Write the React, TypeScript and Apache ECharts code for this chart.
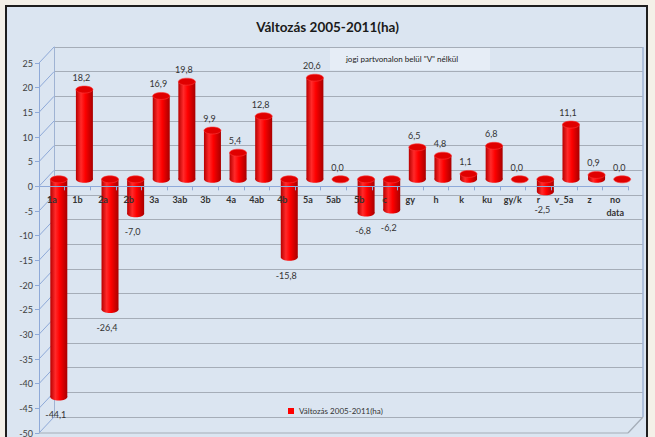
import React, { useEffect, useRef } from "react";
import * as echarts from "echarts";

const categories = ["1a","1b","2a","2b","3a","3ab","3b","4a","4ab","4b","5a","5ab","5b","c","gy","h","k","ku","gy/k","r","v_5a","z","no\ndata"];
const values = [-44.1,18.2,-26.4,-7.0,16.9,19.8,9.9,5.4,12.8,-15.8,20.6,0.0,-6.8,-6.2,6.5,4.8,1.1,6.8,0.0,-2.5,11.1,0.9,0.0];
const yTicks = [-50,-45,-40,-35,-30,-25,-20,-15,-10,-5,0,5,10,15,20,25];
const seriesName = "Változás 2005-2011(ha)";
const titleText = "Változás 2005-2011(ha)";
const noteText = "jogi partvonalon belül \"V\" nélkül";

const FONT = "Lato, 'Open Sans', sans-serif";

export default function App() {
  const ref = useRef<HTMLDivElement>(null);
  useEffect(() => {
    if (!ref.current) return;
    const chart = echarts.init(ref.current, undefined, { renderer: "svg" });
    const BDX = 15, BDY = -16; // back wall depth offset
    const PDX = 7, PDY = -7;   // bar plane offset
    const barW = 17, ry = 3.5;
    const yMin = yTicks[0], yMax = yTicks[yTicks.length - 1];
    const gridH = 370;
    const zeroOffset = -gridH * (0 - yMin) / (yMax - yMin);

    const option: any = {
      animation: false,
      backgroundColor: "transparent",
      textStyle: { fontFamily: FONT },
      title: {
        text: titleText, left: "center", top: 15,
        textStyle: { fontSize: 13.5, fontWeight: "bold", color: "#1a1a1a", fontFamily: FONT },
      },
      legend: {
        data: [{ name: seriesName, icon: "rect" }],
        left: 283, top: 402, itemWidth: 6, itemHeight: 6, itemGap: 2,
        textStyle: { fontSize: 8, color: "#333", fontFamily: FONT },
      },
      graphic: [
        {
          type: "group", left: 330, top: 47,
          children: [
            { type: "rect", shape: { x: 0, y: 0, width: 160, height: 23 }, style: { fill: "#e6edf6" } },
            { type: "text", x: 72, y: 11.5, style: { text: noteText, fontSize: 8, fill: "#222", align: "center", verticalAlign: "middle", fontFamily: FONT } },
          ],
        },
      ],
      grid: [
        { left: 39, top: 63, width: 589, height: gridH, containLabel: false, outerBoundsMode: "none" },
        { left: 39 + BDX, top: 63 + BDY, width: 589, height: gridH, containLabel: false, outerBoundsMode: "none" },
      ],
      xAxis: [
        {
          type: "category", data: categories, gridIndex: 0, position: "bottom", offset: zeroOffset, z: 10,
          axisLine: { onZero: false, lineStyle: { color: "#8ea9d8" } },
          axisTick: { show: true, length: 4, lineStyle: { color: "#8ea9d8" } },
          axisLabel: { interval: 0, fontSize: 9, fontWeight: "bold", color: "#333", margin: 7, lineHeight: 13, fontFamily: FONT },
        },
        { type: "category", data: categories, gridIndex: 1, show: false },
      ],
      yAxis: [
        {
          type: "value", gridIndex: 0, min: yMin, max: yMax, interval: 5,
          axisLine: { show: true, lineStyle: { color: "#8ea9d8" } },
          axisTick: { show: true, length: 4, lineStyle: { color: "#8ea9d8" } },
          axisLabel: { fontSize: 9, color: "#404040", margin: 6, fontFamily: FONT },
          splitLine: { show: false },
        },
        {
          type: "value", gridIndex: 1, min: yMin, max: yMax, interval: 5,
          axisLine: { show: true, lineStyle: { color: "#9fb3d3" } },
          axisTick: { show: false }, axisLabel: { show: false },
          splitLine: { show: true, lineStyle: { color: "#a5adb8", width: 1.2 } },
        },
      ],
      series: [
        {
          type: "custom", name: "frame", xAxisIndex: 0, yAxisIndex: 0, silent: true, clip: false, z: 1,
          data: yTicks.map((t) => [0, t]),
          encode: { x: 0, y: 1 },
          renderItem: (params: any, api: any) => {
            const cs = params.coordSys;
            const t = api.value(1);
            const y = api.coord([0, t])[1];
            const ls = { stroke: "#8ea9d8", lineWidth: 1 };
            const children: any[] = [
              { type: "line", shape: { x1: cs.x, y1: y, x2: cs.x + BDX, y2: y + BDY }, style: ls },
            ];
            if (t === yTicks[0]) {
              children.push(
                { type: "line", shape: { x1: cs.x, y1: y, x2: cs.x + cs.width, y2: y }, style: { stroke: "#a5adb8", lineWidth: 1.2 } },
                { type: "line", shape: { x1: cs.x + cs.width, y1: y, x2: cs.x + cs.width + BDX, y2: y + BDY }, style: { stroke: "#a5adb8", lineWidth: 1.2 } },
                { type: "line", shape: { x1: cs.x + cs.width + BDX, y1: y + BDY, x2: cs.x + cs.width + BDX, y2: cs.y + BDY }, style: { stroke: "#9fb3d3", lineWidth: 1.5 } },
              );
            }
            return { type: "group", children };
          },
        },
        {
          type: "custom", name: seriesName, xAxisIndex: 0, yAxisIndex: 0, clip: false, z: 5,
          itemStyle: { color: "#ff0000" },
          data: values.map((v, i) => [i, v]),
          encode: { x: 0, y: 1 },
          renderItem: (params: any, api: any) => {
            const i = api.value(0);
            const v = api.value(1);
            const base = api.coord([i, 0]);
            const end = api.coord([i, v]);
            const cx = base[0] + PDX;
            const y0 = base[1] + PDY;
            const y1 = end[1] + PDY;
            const top = Math.min(y0, y1);
            const bot = Math.max(y0, y1);
            const grad = new echarts.graphic.LinearGradient(0, 0, 1, 0, [
              { offset: 0, color: "#b80000" },
              { offset: 0.3, color: "#ff2a2a" },
              { offset: 0.55, color: "#ff0000" },
              { offset: 1, color: "#a80000" },
            ]);
            const label = v.toFixed(1).replace(".", ",");
            const ly = v >= 0 ? y1 - 12 : y1 + 18;
            const children: any[] = [];
            if (bot - top > 0.5) {
              children.push({ type: "rect", shape: { x: cx - barW / 2, y: top, width: barW, height: bot - top }, style: { fill: grad } });
              children.push({ type: "ellipse", shape: { cx, cy: bot, rx: barW / 2, ry }, style: { fill: grad } });
            }
            children.push({ type: "ellipse", shape: { cx, cy: top, rx: barW / 2, ry }, style: { fill: "#e00000", stroke: "#ff3b3b", lineWidth: 0.6 } });
            children.push({
              type: "text", x: cx - 3, y: ly,
              style: { text: label, fontSize: 9, fill: "#333", align: "center", verticalAlign: "middle", fontFamily: FONT },
            });
            return { type: "group", children };
          },
        },
      ],
    };
    chart.setOption(option);
    return () => chart.dispose();
  }, []);

  return (
    <div style={{ position: "fixed", left: 0, top: 0, width: 655, height: 437, background: "#f4f0e8", overflow: "hidden" }}>
      <div style={{ position: "absolute", left: 5, top: 5, width: 643, height: 440, border: "2px solid #1e1e1e", background: "#dbe5f1", boxSizing: "border-box" }} />
      <div ref={ref} style={{ position: "absolute", left: 0, top: 0, width: 655, height: 437 }} />
    </div>
  );
}
